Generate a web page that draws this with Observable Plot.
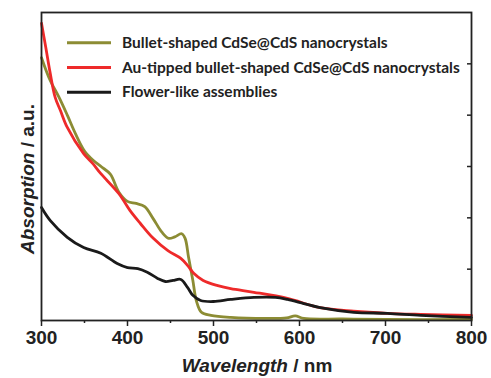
<!DOCTYPE html>
<html>
<head>
<meta charset="utf-8">
<script src="https://cdn.jsdelivr.net/npm/d3@7"></script>
<script src="https://cdn.jsdelivr.net/npm/@observablehq/plot@0.6"></script>
<style>
  html, body { margin: 0; padding: 0; background: #fff; }
  #wrap { position: relative; width: 491px; height: 378px; }
  #legend { position: absolute; left: 0; top: 0; pointer-events: none; }
</style>
</head>
<body>
<div id="wrap"></div>
<script>
// ---- data ----
const seriesNames = [
  "Bullet-shaped CdSe@CdS nanocrystals",
  "Au-tipped bullet-shaped CdSe@CdS nanocrystals",
  "Flower-like assemblies"
];
const seriesColors = ["#8c8c34", "#ee2a2a", "#1a1a1a"];

const bulletWl = [300, 310, 320, 330, 340, 350, 360, 370, 380, 390, 400, 410, 420, 430, 440, 448, 455, 463, 467, 471, 476, 480, 486, 497, 520, 560, 585, 595, 605, 650, 700, 800];
const bulletAbs = [5.12, 4.68, 4.36, 4.0, 3.62, 3.3, 3.12, 2.99, 2.85, 2.5, 2.32, 2.28, 2.22, 1.98, 1.72, 1.6, 1.63, 1.69, 1.6, 1.23, 0.78, 0.39, 0.16, 0.1, 0.06, 0.04, 0.05, 0.09, 0.04, 0.03, 0.02, 0.02];

const auWl = [300, 305, 310, 316, 322, 330, 349, 360, 369, 390, 403, 415, 430, 447, 462, 470, 477, 488, 505, 520, 547, 586, 624, 663, 702, 741, 800];
const auAbs = [5.79, 5.32, 4.83, 4.34, 4.09, 3.76, 3.25, 3.05, 2.86, 2.47, 2.14, 1.89, 1.6, 1.36, 1.21, 1.07, 0.92, 0.78, 0.68, 0.62, 0.55, 0.43, 0.25, 0.18, 0.14, 0.12, 0.1];

const flowerWl = [300, 310, 330, 349, 369, 388, 400, 412, 423, 435, 444, 453, 462, 470, 476, 485, 500, 520, 547, 572, 586, 605, 624, 663, 702, 741, 800];
const flowerAbs = [2.2, 1.95, 1.62, 1.42, 1.31, 1.11, 1.03, 1.01, 0.94, 0.82, 0.76, 0.78, 0.8, 0.64, 0.49, 0.39, 0.37, 0.41, 0.45, 0.45, 0.41, 0.33, 0.25, 0.16, 0.14, 0.1, 0.06];

const xMajorTicks = [300, 400, 500, 600, 700, 800];
const xMinorTicks = [350, 450, 550, 650, 750];
const yRightTicks = [1, 2, 3, 4, 5];
const yDomain = [0, 6];
const xDomain = [300, 800];

// ---- build table ----
const wls = [bulletWl, auWl, flowerWl];
const abss = [bulletAbs, auAbs, flowerAbs];
const rows = [];
seriesNames.forEach((name, i) => {
  wls[i].forEach((w, j) => rows.push({series: name, wl: w, a: abss[i][j]}));
});

const tickFont = "'Liberation Sans', Arial, sans-serif";

const plot = Plot.plot({
  width: 491,
  height: 378,
  marginLeft: 41,
  marginRight: 20,
  marginTop: 12,
  marginBottom: 58,
  style: {background: "#fff", fontFamily: tickFont, color: "#222"},
  x: {domain: xDomain},
  y: {domain: yDomain},
  color: {domain: seriesNames, range: seriesColors},
  marks: [
    Plot.line(rows, {x: "wl", y: "a", z: "series", stroke: "series", strokeWidth: 2.8, curve: "catmull-rom"}),
    Plot.frame({stroke: "#222", strokeWidth: 1.8}),
    Plot.axisX({ticks: xMajorTicks, tickSize: 6, tickPadding: 4, tickFormat: d => String(d),
      fontSize: 19, fontWeight: "bold", label: null, strokeWidth: 1.5}),
    Plot.axisX({ticks: xMinorTicks, tickSize: 3, text: null, label: null, strokeWidth: 1.5}),
    Plot.axisY({anchor: "right", ticks: yRightTicks, tickSize: 5, dx: -5, text: null, label: null, strokeWidth: 1.5}),
    Plot.axisY({anchor: "left", ticks: [], label: null})
  ]
});

const wrap = document.getElementById("wrap");
wrap.appendChild(plot);

// axis titles with mixed italic/bold
const svg = d3.select(plot);
const xs = plot.scale("x"), ys = plot.scale("y");
const xMid = (xs.range[0] + xs.range[1]) / 2;
const yMid = (ys.range[0] + ys.range[1]) / 2;

const xt = svg.append("text")
  .attr("x", xMid + 1).attr("y", 372)
  .attr("text-anchor", "middle")
  .attr("font-family", tickFont).attr("font-size", 19).attr("font-weight", "bold").attr("fill", "#222");
xt.append("tspan").attr("font-style", "italic").text("Wavelength");
xt.append("tspan").text(" / nm");

const yt = svg.append("text")
  .attr("transform", `translate(34,${yMid + 13}) rotate(-90)`)
  .attr("text-anchor", "middle")
  .attr("font-family", tickFont).attr("font-size", 19).attr("font-weight", "bold").attr("fill", "#222");
yt.append("tspan").attr("font-style", "italic").text("Absorption");
yt.append("tspan").text(" / a.u.");

// legend overlay (font size fitted so the longest entry spans the reference width)
const legendFont = "Lato, 'Open Sans', sans-serif";
const lg = d3.select(wrap).append("svg").attr("id", "legend").attr("width", 491).attr("height", 378);
const texts = [];
seriesNames.forEach((name, i) => {
  const y = 42.7 + i * 24.8;
  lg.append("line").attr("x1", 67).attr("x2", 111).attr("y1", y).attr("y2", y)
    .attr("stroke", seriesColors[i]).attr("stroke-width", 3);
  texts.push(lg.append("text").attr("x", 122).attr("y", y + 5)
    .attr("font-family", legendFont)
    .attr("font-size", 14).attr("font-weight", "bold").attr("fill", "#222")
    .text(name));
});
const measured = texts[1].node().getComputedTextLength();
if (measured > 0) {
  const fs = Math.min(16, 14 * 338 / measured);
  texts.forEach(t => t.attr("font-size", fs));
}
</script>
</body>
</html>
